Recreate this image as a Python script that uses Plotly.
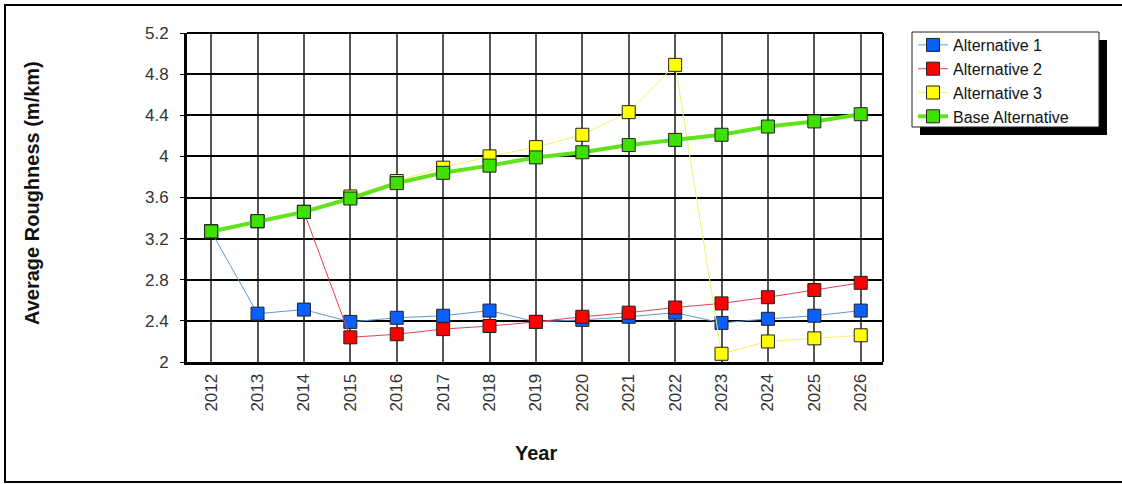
import plotly.graph_objects as go

years = list(range(2012, 2027))
alt1 = [3.27, 2.47, 2.51, 2.39, 2.43, 2.45, 2.50, 2.39, 2.41, 2.44, 2.48, 2.38, 2.42, 2.45, 2.50]
alt2 = [3.27, 3.37, 3.46, 2.24, 2.27, 2.32, 2.35, 2.39, 2.44, 2.48, 2.53, 2.57, 2.63, 2.70, 2.77]
alt3 = [3.27, 3.37, 3.46, 3.61, 3.76, 3.89, 4.00, 4.09, 4.21, 4.43, 4.89, 2.08, 2.20, 2.23, 2.26]
base = [3.27, 3.37, 3.46, 3.59, 3.74, 3.84, 3.91, 3.99, 4.04, 4.11, 4.16, 4.21, 4.29, 4.34, 4.41]
y_ticks = [2, 2.4, 2.8, 3.2, 3.6, 4, 4.4, 4.8, 5.2]
y_tick_text = ["2", "2.4", "2.8", "3.2", "3.6", "4", "4.4", "4.8", "5.2"]

FONT = "Liberation Sans, Arial, sans-serif"

series = [
    ("Alternative 1", alt1, "#5b9bd5", 1, "#0a5fff"),
    ("Alternative 2", alt2, "#e8404a", 1, "#ff0000"),
    ("Alternative 3", alt3, "#f3ef6a", 1, "#ffff00"),
    ("Base Alternative", base, "#5fe31a", 4, "#3ee000"),
]

fig = go.Figure()
for name, vals, lc, lw, mc in series:
    fig.add_trace(go.Scatter(
        x=years, y=vals, name=name, mode="lines+markers",
        line=dict(color=lc, width=lw),
        marker=dict(symbol="square", size=13, color=mc, line=dict(color="#222222", width=1)),
    ))

L, T, W, H = 187, 33, 696, 329
def px(x):
    return (x - L) / W
def py(y):
    return (T + H - y) / H

shapes = [
    # outer border
    dict(type="rect", xref="paper", yref="paper", x0=px(5), x1=px(1135), y0=py(482), y1=py(5),
         line=dict(color="black", width=2), layer="below"),
    # legend shadow
    dict(type="rect", xref="paper", yref="paper", x0=px(920), x1=px(1107), y0=py(135), y1=py(40),
         line=dict(width=0), fillcolor="black", layer="above"),
    # legend box
    dict(type="rect", xref="paper", yref="paper", x0=px(912), x1=px(1099), y0=py(127), y1=py(32),
         line=dict(color="#222222", width=1), fillcolor="white", layer="above"),
    # right and top frame
    dict(type="line", xref="paper", yref="paper", x0=1, x1=1, y0=0, y1=1, line=dict(color="black", width=2)),
    dict(type="line", xref="paper", yref="paper", x0=0, x1=1, y0=1, y1=1, line=dict(color="black", width=2)),
]

annotations = [
    dict(text="<b>Average Roughness (m/km)</b>", xref="paper", yref="paper", x=px(32), y=py(193),
         xanchor="center", yanchor="middle", textangle=-90, showarrow=False,
         font=dict(family=FONT, size=20, color="#111111")),
    dict(text="<b>Year</b>", xref="paper", yref="paper", x=px(536), y=py(453),
         xanchor="center", yanchor="middle", showarrow=False,
         font=dict(family=FONT, size=20, color="#111111")),
]

fig.update_layout(
    width=1122, height=484,
    margin=dict(l=L, r=1122 - L - W, t=T, b=484 - T - H),
    paper_bgcolor="white", plot_bgcolor="white",
    font=dict(family=FONT, size=17, color="#333333"),
    showlegend=True,
    legend=dict(x=px(913), y=py(28), xanchor="left", yanchor="top",
                bgcolor="rgba(0,0,0,0)", borderwidth=0,
                font=dict(family=FONT, size=16, color="#111111"),
                tracegroupgap=0, itemwidth=30),
    xaxis=dict(range=[2011.48, 2026.48], tickmode="array", tickvals=years,
               ticktext=[str(y) for y in years], tickangle=-90,
               showgrid=True, gridcolor="#555555", gridwidth=1.5,
               showline=True, linecolor="black", linewidth=3,
               ticks="", ticklabelstandoff=2,
               zeroline=False, fixedrange=True),
    yaxis=dict(range=[2, 5.2], tickmode="array", tickvals=y_ticks, ticktext=y_tick_text,
               showgrid=True, gridcolor="black", gridwidth=2,
               showline=True, linecolor="black", linewidth=3,
               ticks="outside", ticklen=4, tickcolor="black", ticklabelstandoff=8,
               zeroline=False, fixedrange=True),
    shapes=shapes,
    annotations=annotations,
)

fig.write_html("out.html", config={"displayModeBar": False},
               post_script="document.body.style.margin='0';document.body.style.overflow='hidden';")
